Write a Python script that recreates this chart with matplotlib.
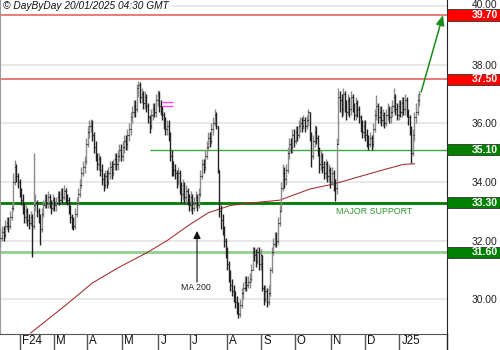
import matplotlib
matplotlib.use('Agg')
import matplotlib.pyplot as plt
import matplotlib.transforms as mtransforms
from matplotlib.patches import Rectangle
import numpy as np
import pandas as pd

plt.rcParams['font.family'] = ['Liberation Sans', 'DejaVu Sans']

# daily bars, 15 Jan 2024 .. 17 Jan 2025
start_date = '2024-01-15'
closes = [
    32.1, 32.3, 32.2, 32.5, 32.6, 32.5, 32.8, 33.1, 34.0, 34.5,
    34.2, 34.0, 33.7, 33.4, 33.1, 32.8, 33.0, 32.7, 32.6, 32.8,
    32.5, 33.2, 33.3, 33.0, 32.8, 32.4, 32.9, 33.2, 33.4, 33.3,
    33.5, 33.3, 33.1, 33.4, 33.2, 33.3, 33.5, 33.4, 33.6, 33.5,
    33.7, 33.5, 33.4, 33.1, 32.8, 32.6, 32.5, 32.9, 33.3, 33.6,
    33.9, 34.3, 34.5, 34.7, 35.3, 35.7, 35.9, 36.0, 35.6, 35.2,
    34.9, 34.6, 34.8, 34.4, 34.1, 33.9, 34.2, 34.0, 34.3, 34.5,
    34.3, 34.6, 34.8, 34.6, 34.9, 35.1, 34.9, 35.2, 35.4, 35.3,
    35.6, 35.8, 36.2, 36.4, 36.6, 36.5, 37.2, 37.3, 36.9, 37.0,
    36.7, 36.9, 36.6, 36.2, 35.9, 36.3, 36.5, 36.4, 36.8, 37.0,
    36.6, 36.5, 36.3, 36.0, 35.8, 35.9, 35.6, 34.9, 34.5, 34.4,
    34.3, 34.0, 34.3, 33.8, 33.6, 33.9, 33.5, 33.7, 33.4, 33.2,
    33.5, 33.1, 33.3, 33.5, 33.2, 33.6, 34.2, 34.6, 34.5, 34.9,
    35.2, 35.5, 35.4, 35.8, 36.0, 36.3, 35.9, 34.4, 33.0, 32.7,
    32.4, 32.0, 31.6, 31.2, 30.8, 30.5, 30.3, 30.1, 29.9, 29.6,
    29.5, 29.8, 30.2, 30.4, 30.6, 30.5, 30.6, 30.7, 31.0, 31.6,
    31.5, 31.3, 31.6, 31.2, 31.5, 30.4, 30.0, 30.3, 29.9, 30.2,
    31.0, 31.6, 31.9, 32.1, 32.0, 32.6, 33.0, 33.8, 34.3, 34.1,
    34.4, 35.0, 35.3, 35.2, 35.6, 35.4, 35.7, 35.6, 35.9, 36.0,
    35.9, 36.1, 35.9, 36.1, 36.4, 35.6, 34.9, 35.4, 35.7, 35.5,
    35.1, 34.6, 34.9, 34.5, 34.3, 34.6, 34.2, 34.4, 34.0, 34.3,
    33.9, 33.8, 35.3, 36.9, 36.8, 36.5, 37.0, 36.6, 36.4, 36.8,
    36.5, 36.9, 36.6, 36.3, 36.7, 36.5, 36.2, 35.9, 35.7, 35.9,
    35.6, 35.4, 35.3, 35.5, 35.3, 35.8, 36.3, 36.6, 36.2, 36.4,
    36.1, 36.3, 36.0, 36.3, 36.5, 36.2, 36.4, 36.6, 36.9, 36.5,
    36.3, 36.6, 36.4, 36.7, 36.5, 36.8, 36.4, 36.2, 35.8, 35.0,
    35.6, 36.2, 36.4, 36.8, 37.0,
]
highs = [
    32.4, 32.5, 32.5, 32.7, 32.8, 32.8, 33.0, 33.3, 34.3, 34.75,
    34.6, 34.3, 34.1, 33.8, 33.6, 33.3, 33.2, 33.1, 32.9, 33.0,
    32.9, 35.0, 33.6, 33.4, 33.1, 32.9, 33.1, 33.4, 33.6, 33.6,
    33.7, 33.6, 33.4, 33.6, 33.5, 33.5, 33.7, 33.7, 33.8, 33.8,
    33.9, 33.8, 33.6, 33.5, 33.2, 32.9, 32.8, 33.1, 33.5, 33.8,
    34.1, 34.5, 34.7, 34.9, 35.5, 35.9, 36.1, 36.15, 36.1, 35.7,
    35.4, 35.0, 35.0, 34.9, 34.6, 34.3, 34.4, 34.4, 34.5, 34.7,
    34.7, 34.8, 35.0, 35.0, 35.1, 35.3, 35.3, 35.4, 35.6, 35.6,
    35.8, 36.0, 36.4, 36.6, 36.8, 36.8, 37.35, 37.45, 37.4, 37.2,
    37.1, 37.1, 37.0, 36.7, 36.3, 36.5, 36.7, 36.7, 37.0, 37.15,
    37.1, 36.8, 36.6, 36.4, 36.2, 36.1, 36.1, 35.7, 35.1, 34.7,
    34.6, 34.4, 34.5, 34.4, 34.0, 34.1, 34.0, 33.9, 33.8, 33.6,
    33.7, 33.6, 33.5, 33.7, 33.6, 33.8, 34.4, 34.8, 34.8, 35.1,
    35.4, 35.7, 35.7, 36.0, 36.2, 36.5, 36.4, 35.9, 34.4, 33.2,
    32.9, 32.5, 32.1, 31.8, 31.3, 31.0, 30.7, 30.5, 30.3, 30.1,
    29.9, 30.0, 30.4, 30.6, 30.8, 30.8, 30.8, 30.9, 31.2, 31.8,
    31.8, 31.7, 31.8, 31.8, 31.7, 31.5, 30.5, 30.5, 30.4, 30.5,
    31.1, 31.8, 32.1, 32.3, 32.3, 32.8, 33.2, 34.0, 34.6, 34.5,
    34.6, 35.2, 35.5, 35.5, 35.8, 35.8, 35.9, 35.9, 36.1, 36.2,
    36.2, 36.3, 36.2, 36.3, 36.5, 36.4, 35.7, 35.6, 35.95, 35.9,
    35.6, 35.2, 35.1, 35.0, 34.7, 34.8, 34.7, 34.6, 34.5, 34.5,
    34.4, 34.1, 35.5, 37.2, 37.1, 37.0, 37.2, 37.1, 36.8, 37.0,
    36.9, 37.1, 37.0, 36.7, 36.9, 36.8, 36.6, 36.3, 36.1, 36.1,
    36.1, 35.8, 35.6, 35.7, 35.6, 36.0, 36.5, 36.97, 36.7, 36.6,
    36.6, 36.5, 36.4, 36.5, 36.7, 36.6, 36.6, 36.8, 37.2, 37.0,
    36.7, 36.8, 36.8, 36.9, 36.9, 37.0, 36.9, 36.5, 36.3, 35.9,
    35.8, 36.4, 36.7, 37.0, 37.1,
]
lows = [
    31.8, 32.0, 32.0, 32.1, 32.4, 32.3, 32.4, 32.7, 33.0, 33.9,
    34.0, 33.8, 33.5, 33.2, 32.9, 32.6, 32.6, 32.5, 32.4, 32.5,
    31.45, 32.4, 33.0, 32.8, 32.6, 31.85, 32.3, 32.8, 33.1, 33.1,
    33.1, 33.1, 32.9, 33.0, 33.0, 33.0, 33.2, 33.2, 33.3, 33.3,
    33.4, 33.3, 33.2, 32.9, 32.6, 32.4, 32.35, 32.4, 32.8, 33.2,
    33.5, 33.8, 34.2, 34.3, 34.6, 35.2, 35.5, 35.7, 35.4, 35.0,
    34.7, 34.4, 34.4, 34.2, 33.9, 33.7, 33.8, 33.8, 33.9, 34.1,
    34.1, 34.2, 34.4, 34.4, 34.4, 34.7, 34.7, 34.7, 35.0, 35.1,
    35.1, 35.4, 35.6, 36.0, 36.2, 36.2, 36.4, 36.9, 36.7, 36.7,
    36.5, 36.5, 36.4, 36.0, 35.67, 35.8, 36.1, 36.2, 36.2, 36.6,
    36.4, 36.3, 36.1, 35.8, 35.6, 35.6, 35.4, 34.7, 34.2, 34.2,
    34.1, 33.8, 33.9, 33.6, 33.3, 33.4, 33.3, 33.3, 33.2, 33.0,
    33.0, 32.9, 33.0, 33.1, 33.0, 33.1, 33.5, 34.1, 34.3, 34.4,
    34.8, 35.1, 35.2, 35.3, 35.6, 35.9, 35.8, 34.3, 32.8, 32.4,
    32.2, 31.8, 31.4, 31.0, 30.6, 30.3, 30.1, 29.9, 29.7, 29.5,
    29.36, 29.4, 29.7, 30.0, 30.3, 30.3, 30.4, 30.4, 30.6, 31.0,
    31.3, 31.1, 31.2, 31.0, 31.0, 30.3, 29.8, 29.9, 29.75, 29.8,
    30.1, 30.9, 31.5, 31.8, 31.8, 31.9, 32.5, 33.0, 33.7, 33.8,
    33.9, 34.3, 34.8, 35.0, 35.0, 35.2, 35.3, 35.4, 35.5, 35.7,
    35.7, 35.8, 35.7, 35.8, 35.9, 35.4, 34.5, 34.8, 35.2, 35.3,
    34.9, 34.3, 34.4, 34.3, 34.1, 34.1, 34.0, 34.0, 33.8, 33.9,
    33.7, 33.35, 33.6, 35.3, 36.4, 36.2, 36.3, 36.4, 36.1, 36.3,
    36.2, 36.3, 36.4, 36.1, 36.1, 36.2, 36.0, 35.7, 35.5, 35.5,
    35.4, 35.2, 35.1, 35.2, 35.1, 35.2, 35.7, 36.1, 36.0, 36.0,
    35.9, 35.9, 35.85, 35.9, 36.1, 36.0, 36.0, 36.2, 36.4, 36.3,
    36.1, 36.1, 36.2, 36.2, 36.3, 36.3, 36.2, 35.95, 35.6, 34.65,
    34.9, 35.4, 36.0, 36.3, 36.6,
]

# 200-day moving average, read at a few bars (bar index, value)
ma_idx = [19, 40, 58, 75, 92, 105, 118, 131, 145, 157, 176, 195, 210, 241, 254, 261]
ma_val = [28.85, 29.75, 30.56, 31.1, 31.58, 32.0, 32.5, 32.95, 33.2, 33.28,
          33.38, 33.76, 33.93, 34.41, 34.6, 34.62]

# horizontal levels
red_levels = [39.70, 37.50]
green_levels = [35.10, 33.30, 31.60]
gap_marks = [36.74, 36.59]

closes = np.array(closes)
highs = np.array(highs)
lows = np.array(lows)
opens = np.r_[closes[0], closes[:-1]]
dates = pd.bdate_range(start_date, periods=len(closes))
x = np.arange(len(closes))

fig = plt.figure(figsize=(5, 3.5), dpi=100)
ax = fig.add_axes([0, 16 / 350, 447 / 500, 334 / 350])
ax.set_xlim(-0.3, 281.5)
ax.set_ylim(28.817, 40.205)

# grid
yt = [30, 32, 34, 36, 38, 40]
for v in yt:
    ax.axhline(v, color='#e4e4e4', lw=1.2, zorder=0)

# levels
ax.axhline(39.70, color='#e86464', lw=1.2, zorder=1)
ax.axhline(37.50, color='#e86464', lw=1.2, zorder=1)
ax.hlines(35.10, 94.5, 281.5, color='#3aaa3a', lw=1.0, zorder=1)
ax.axhline(33.30, color='#007a00', lw=2.0, zorder=1)
ax.axhline(31.60, color='#99d299', lw=2.2, zorder=1)

# MA 200
ax.plot(ma_idx, ma_val, color='#a52a2a', lw=0.75, zorder=2)

# bars
up = closes >= opens
ax.vlines(x[up], lows[up], highs[up], color='#8c8c8c', lw=1.0, zorder=3)
ax.vlines(x[~up], lows[~up], highs[~up], color='#222222', lw=1.0, zorder=3)
ax.hlines(opens, x - 0.6, x, color='#222222', lw=0.8, zorder=3)
ax.hlines(closes, x, x + 0.6, color='#222222', lw=0.8, zorder=3)

# magenta marks
ax.hlines(gap_marks, 101.8, 108.8, color='#ff44ff', lw=1.0, zorder=3)

# annotations
ax.annotate('', xy=(279.0, 39.69), xytext=(265.2, 37.07),
            arrowprops=dict(arrowstyle='-|>,head_length=0.6,head_width=0.25',
                            color='#1a8c1a', lw=1.1, shrinkA=0, shrinkB=0))
ax.annotate('', xy=(123.9, 32.33), xytext=(123.9, 30.59),
            arrowprops=dict(arrowstyle='-|>,head_length=0.45,head_width=0.22',
                            color='#111111', lw=0.8, shrinkA=0, shrinkB=0))
ax.text(123.3, 30.39, 'MA 200', fontsize=6.3, color='#222222',
        ha='center', va='center')
ax.text(235.5, 33.0, 'MAJOR SUPPORT', fontsize=6.4, color='#2e9a2e',
        ha='center', va='center')

# right-hand price labels
trans = mtransforms.blended_transform_factory(ax.transAxes, ax.transData)
box_w = 53 / 447
box_h = 11.5 / 29.33
for v in red_levels + green_levels:
    col = '#ff0000' if v in red_levels else '#008000'
    ax.add_patch(Rectangle((1.0, v - box_h / 2), box_w, box_h, transform=trans,
                           facecolor=col, edgecolor='#333333', lw=0.6,
                           clip_on=False, zorder=4))
    ax.text(1.0 + 51 / 447, v, f'{v:.2f}', transform=trans, color='white',
            fontsize=7.6, fontweight='bold', ha='right', va='center', zorder=5)

ax.yaxis.tick_right()
ax.set_yticks(yt)
ax.set_yticklabels([f'{v:.2f}' for v in yt])
ax.tick_params(axis='y', length=0, pad=36, labelsize=7.4, labelcolor='#222222')
for lab in ax.get_yticklabels():
    lab.set_horizontalalignment('right')
top_lab = ax.get_yticklabels()[-1]
top_lab.set_transform(top_lab.get_transform() +
                      mtransforms.ScaledTranslation(0, 1.5 / 72, fig.dpi_scale_trans))

# month separators and labels
month_start = [i for i in range(1, len(dates)) if dates[i].month != dates[i - 1].month]
seps = [i - 0.5 for i in month_start]
names = []
for i in month_start:
    d = dates[i]
    if d.month == 2 and d.year == 2024:
        names.append('F24')
    elif d.month == 1:
        names.append('J25')
    else:
        names.append(d.strftime('%b')[0])
ax.set_xticks(seps)
ax.set_xticklabels([])
ax.tick_params(axis='x', length=12.5, width=1, color='#555555', direction='out')
xtrans = mtransforms.blended_transform_factory(ax.transData, ax.transAxes)
for s, n in zip(seps, names):
    ax.text(s + 1.3, -0.003, n, transform=xtrans, fontsize=8.3, color='#111111',
            ha='left', va='top')

ax.spines['top'].set_visible(False)
ax.spines['left'].set_color('#999999')
ax.spines['bottom'].set_color('#555555')
ax.spines['right'].set_color('#222222')
fig.add_artist(plt.Line2D([447 / 500, 447 / 500], [0, 16 / 350],
                          color='#222222', lw=1.0))

# header
fig.text(3 / 500, 1 - 6 / 350, '\u00a9 DayByDay 20/01/2025 04:30 GMT',
         fontsize=7.3, style='italic', color='#111111', ha='left', va='center',
         bbox=dict(facecolor='white', edgecolor='none', pad=1.5))

fig.savefig('out.png', dpi=100)
